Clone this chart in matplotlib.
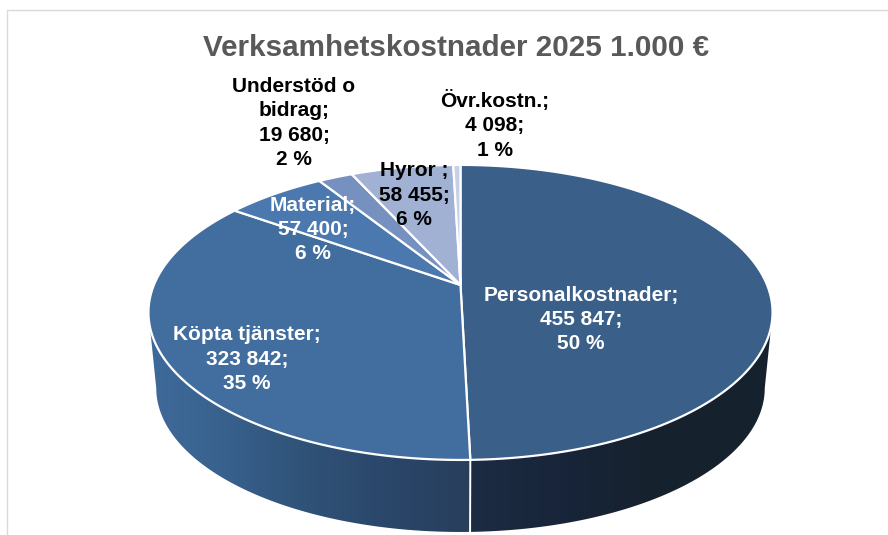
import numpy as np
import matplotlib
matplotlib.use("Agg")
import matplotlib.pyplot as plt
from matplotlib.path import Path
from matplotlib.patches import Polygon
from matplotlib.transforms import Transform
from matplotlib.colors import to_rgb

title = "Verksamhetskostnader 2025 1.000 €"
categories = ["Personalkostnader", "Köpta tjänster", "Material", "Understöd o\nbidrag", "Hyror ", "Övr.kostn."]
values = [455847, 323842, 57400, 19680, 58455, 4098]
value_labels = ["455 847", "323 842", "57 400", "19 680", "58 455", "4 098"]
percent_labels = ["50 %", "35 %", "6 %", "2 %", "6 %", "1 %"]
colors = ["#3A5F89", "#426E9F", "#4A78AF", "#7691BF", "#A0B1D3", "#C6D1E5"]
label_colors = ["white", "white", "white", "black", "black", "black"]
label_pos = [(581, 319.5), (247, 359), (313, 229.5), (294, 123), (414, 195), (495, 125)]

CX, APEX_Y, A, B, K = 460.5, 285.0, 306.6, 142.4, 0.186
SCALE, BOTTOM_Y = 0.975, 361.4


def project(u, v, scale=1.0, y0=APEX_Y):
    w = 1 + K * v
    return CX + scale * A * u / w, y0 - scale * B * v / w


class Perspective(Transform):
    input_dims = output_dims = 2
    is_affine = False
    has_inverse = False

    def transform_non_affine(self, values):
        values = np.asarray(values, float)
        return np.column_stack(project(values[:, 0], values[:, 1]))

    def transform_path_non_affine(self, path):
        pts = []
        for curve, _ in path.iter_bezier():
            if curve.degree >= 1:
                pts.append(curve(np.linspace(0, 1, 40)))
        pts = np.vstack(pts)
        pts = np.vstack([pts, pts[:1]])
        return Path(self.transform_non_affine(pts), closed=True)


side_stops = [
    [(470, "#1C2C42"), (560, "#18253A"), (640, "#16222F"), (780, "#17212E")],
    [(150, "#3E6A9A"), (230, "#38608C"), (300, "#305378"), (400, "#2A4568"), (472, "#283F5C")],
]

plt.rcParams["font.family"] = ["Liberation Sans", "DejaVu Sans"]
fig = plt.figure(figsize=(8.88, 5.35), dpi=100)
ax = fig.add_axes([0, 0, 1, 1])
wedges, _ = ax.pie(values, colors=colors, startangle=90, counterclock=False, radius=1,
                   wedgeprops={"edgecolor": "white", "linewidth": 1.6, "zorder": 3})

persp = Perspective()
for w in wedges:
    w.set_transform(persp + ax.transData)
    w.set_clip_on(False)

# Side wall of the two front slices: horizontal gradient clipped to the wall outline
tangent = np.degrees(np.arcsin(K))
visible = [(wedges[0].theta1, -tangent), (-180 + tangent, wedges[1].theta2)]
for (t0, t1), stops in zip(visible, side_stops):
    th = np.radians(np.linspace(t0, t1, 200))
    u, v = np.cos(th), np.sin(th)
    xt, yt = project(u, v)
    xb, yb = project(u, v, SCALE, BOTTOM_Y)
    outline = np.column_stack([np.r_[xt, xb[::-1]], np.r_[yt, yb[::-1]]])
    x0, x1 = outline[:, 0].min(), outline[:, 0].max()
    y0, y1 = outline[:, 1].min(), outline[:, 1].max()
    xs = np.linspace(x0, x1, 256)
    sx, sc = zip(*stops)
    sc = np.array([to_rgb(c) for c in sc])
    grad = np.stack([np.interp(xs, sx, sc[:, i]) for i in range(3)], axis=1)[None, :, :]
    im = ax.imshow(grad, extent=(x0, x1, y1, y0), aspect="auto", zorder=1, interpolation="bilinear")
    im.set_clip_path(Polygon(outline, closed=True, transform=ax.transData))

# Separator on the wall between the two front slices
th0 = np.radians(wedges[0].theta1)
xa, ya = project(np.cos(th0), np.sin(th0))
xc, yc = project(np.cos(th0), np.sin(th0), SCALE, BOTTOM_Y)
ax.plot([xa, xc], [ya, yc], color="white", lw=1.4, zorder=2)

ax.set_aspect("auto")
ax.set_xlim(0, 888)
ax.set_ylim(535, 0)
ax.set_axis_off()

# Chart frame
ax.plot([888, 7, 7], [10, 10, 535], color="#D9D9D9", lw=1.0, zorder=0)

ax.text(456, 48, title, ha="center", va="center", fontsize=21.35, fontweight="bold", color="#595959", zorder=5)
for cat, val, pct, col, pos in zip(categories, value_labels, percent_labels, label_colors, label_pos):
    ax.text(pos[0], pos[1], f"{cat};\n{val};\n{pct}", ha="center", va="center", fontsize=15.0,
            fontweight="bold", color=col, linespacing=1.355, zorder=5)

fig.savefig("out.png", dpi=100, facecolor="white")
